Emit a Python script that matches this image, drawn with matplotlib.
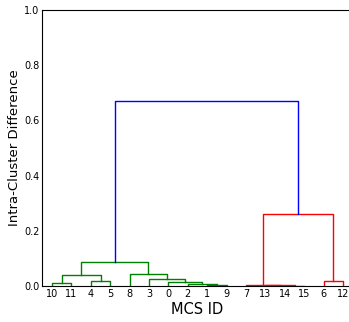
import matplotlib
matplotlib.use("Agg")
import matplotlib.pyplot as plt

# leaves in display order (left to right)
leaf_order = [10, 11, 4, 5, 8, 3, 0, 2, 1, 9, 7, 13, 14, 15, 6, 12]

# merges: (left, right, height, colour); new ids start at 16
merges = [
    (1, 9, 0.002, "g"),
    (2, 16, 0.007, "g"),
    (0, 17, 0.013, "g"),
    (3, 18, 0.024, "g"),
    (8, 19, 0.043, "g"),
    (10, 11, 0.012, "g"),
    (4, 5, 0.018, "g"),
    (21, 22, 0.040, "g"),
    (23, 20, 0.087, "g"),
    (14, 15, 0.001, "r"),
    (13, 25, 0.002, "r"),
    (7, 26, 0.003, "r"),
    (6, 12, 0.017, "r"),
    (27, 28, 0.261, "r"),
    (24, 29, 0.670, "b"),
]

n_leaves = len(leaf_order)
xpos = {leaf: 5 + 10 * i for i, leaf in enumerate(leaf_order)}
ypos = {leaf: 0.0 for leaf in leaf_order}

fig = plt.figure(figsize=(3.49, 3.22), dpi=100)
ax = fig.add_axes([42.3 / 349, 36 / 322, 310.4 / 349, 276 / 322])

for k, (a, b, h, c) in enumerate(merges):
    node = n_leaves + k
    xa, xb = xpos[a], xpos[b]
    ax.plot([xa, xa, xb, xb], [ypos[a], h, h, ypos[b]], color=c, lw=1.0)
    xpos[node] = (xa + xb) / 2
    ypos[node] = h

ax.set_xlim(0, 10 * n_leaves)
ax.set_ylim(0, 1.0)
ax.set_xticks([xpos[l] for l in leaf_order])
ax.set_xticklabels([str(l) for l in leaf_order], fontsize=7)
ax.set_yticks([0.0, 0.2, 0.4, 0.6, 0.8, 1.0])
ax.set_yticklabels(["0.0", "0.2", "0.4", "0.6", "0.8", "1.0"], fontsize=7)
ax.tick_params(length=0, pad=2)
ax.set_xlabel("MCS ID", fontsize=10.5, labelpad=2)
ax.set_ylabel("Intra-Cluster Difference", fontsize=9.5)
ax.yaxis.set_label_coords(-0.068, 0.5)
ax.spines["right"].set_visible(False)

fig.savefig("out.png", dpi=100)
